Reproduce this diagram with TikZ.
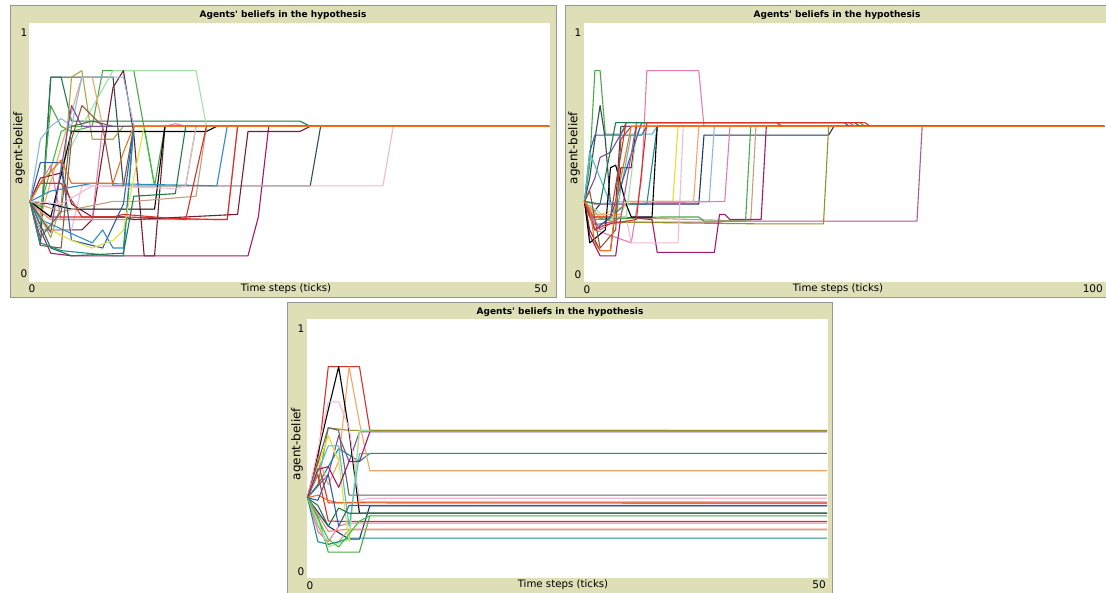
\documentclass[tikz,border=0pt]{standalone}
\usepackage{fontspec}
\setmainfont{DejaVu Sans}
\usetikzlibrary{positioning}

% --- CULORI ---
\definecolor{plotbeige}{RGB}{222,223,183}
\definecolor{frameline}{RGB}{150,150,150}
\definecolor{cslate}{RGB}{47,79,79}
\definecolor{cdgreen}{RGB}{31,122,80}
\definecolor{cgreen}{RGB}{76,170,70}
\definecolor{clgreen}{RGB}{160,226,165}
\definecolor{clime}{RGB}{60,196,60}
\definecolor{ckhaki}{RGB}{175,165,70}
\definecolor{colive}{RGB}{150,145,40}
\definecolor{cmaroon}{RGB}{120,30,50}
\definecolor{cmagenta}{RGB}{165,25,105}
\definecolor{cmauve}{RGB}{180,90,140}
\definecolor{clpink}{RGB}{242,186,208}
\definecolor{cpink}{RGB}{230,125,170}
\definecolor{csalmon}{RGB}{240,130,115}
\definecolor{cred}{RGB}{215,50,41}
\definecolor{corange}{RGB}{242,113,28}
\definecolor{clorange}{RGB}{246,165,105}
\definecolor{ctan}{RGB}{195,160,125}
\definecolor{cbrown}{RGB}{140,90,60}
\definecolor{cblue}{RGB}{52,93,169}
\definecolor{cnavy}{RGB}{30,55,110}
\definecolor{clblue}{RGB}{140,184,224}
\definecolor{csky}{RGB}{45,141,190}
\definecolor{cteal}{RGB}{28,140,140}
\definecolor{cyellow}{RGB}{225,225,50}
\definecolor{cviolet}{RGB}{124,80,164}
\definecolor{cgray}{RGB}{100,100,100}
\definecolor{ccyan}{RGB}{80,190,200}

\begin{document}
\begin{tikzpicture}[
    x=1pt, y=-1pt,
    % --- STILURI VIZUALE ---
    plotframe/.style={
            draw=frameline,
            fill=plotbeige,
            line width=0.8pt
        },
    plotarea/.style={
            fill=white,
            draw=none
        },
    plottitle/.style={
            font=\fontsize{9}{10}\selectfont\bfseries,
            inner sep=0pt
        },
    ticklbl/.style={
            font=\fontsize{10.5}{12}\selectfont,
            inner sep=0pt
        },
    axislbl/.style={
            font=\fontsize{10.2}{12}\selectfont,
            inner sep=0pt
        },
    ylbl/.style={
            font=\fontsize{12}{14}\selectfont,
            inner sep=0pt,
            rotate=90
        },
    agent/.style={
            draw=#1,
            line width=1.1pt,
            line join=round
        }
    ]
    \useasboundingbox (0,0) rectangle (1106,592);

    % --- PANOURI ---
    % PLOT 1 (stanga sus)
    \draw[plotframe] (10,5) rectangle (556,297);
    \fill[plotarea] (29.3,22.7) rectangle (549.5,281.7);
    \node[plottitle] (p1title) at (283,15) {Agents\textquotesingle\ beliefs in the hypothesis};
    \node[ticklbl] (p1ymax) at (24,33) {1};
    \node[ticklbl] (p1ymin) at (24,274) {0};
    \node[ticklbl] (p1xmin) at (32,289) {0};
    \node[ticklbl, anchor=east] (p1xmax) at (548,289) {50};
    \node[axislbl] (p1xlabel) at (286,289) {Time steps (ticks)};
    \node[ylbl] (p1ylabel) at (19,148) {agent-belief};

    % PLOT 2 (dreapta sus)
    \draw[plotframe] (565,5) rectangle (1112,297);
    \fill[plotarea] (584,22.7) rectangle (1106,281.7);
    \node[plottitle] (p2title) at (837,15) {Agents\textquotesingle\ beliefs in the hypothesis};
    \node[ticklbl] (p2ymax) at (578,33) {1};
    \node[ticklbl] (p2ymin) at (578,275) {0};
    \node[ticklbl] (p2xmin) at (587,290) {0};
    \node[ticklbl, anchor=east] (p2xmax) at (1103,289) {100};
    \node[axislbl] (p2xlabel) at (838,289) {Time steps (ticks)};
    \node[ylbl] (p2ylabel) at (574,148) {agent-belief};

    % PLOT 3 (jos)
    \draw[plotframe] (287,302) rectangle (832,600);
    \fill[plotarea] (307,319) rectangle (827.5,578);
    \node[plottitle] (p3title) at (560,312) {Agents\textquotesingle\ beliefs in the hypothesis};
    \node[ticklbl] (p3ymax) at (301,329) {1};
    \node[ticklbl] (p3ymin) at (301,572) {0};
    \node[ticklbl] (p3xmin) at (310,586) {0};
    \node[ticklbl, anchor=east] (p3xmax) at (826,585) {50};
    \node[axislbl] (p3xlabel) at (563,585) {Time steps (ticks)};
    \node[ylbl] (p3ylabel) at (297,444) {agent-belief};

    % --- CURBE PLOT 1 (50 ticks) ---
    \begin{scope}[shift={(30,281.7)}, x=10.38pt, y=259pt]
        \clip (-0.1,0) rectangle (50,1);
        \draw[agent=cslate] (0,.31) -- (1,.14) -- (2,.79) -- (8,.79) -- (9,.37) -- (27,.37) -- (28,.6) -- (50,.6);
        \draw[agent=cdgreen] (0,.31) -- (1,.2) -- (2,.79) -- (3,.79) -- (4,.62) -- (26,.62) -- (27,.6) -- (50,.6);
        \draw[agent=cgreen] (0,.31) -- (1,.25) -- (2,.68) -- (3,.6) -- (4,.58) -- (6,.6) -- (7,.815) -- (10,.815) -- (12,.37) -- (13,.6) -- (50,.6);
        \draw[agent=clgreen] (0,.31) -- (2,.2) -- (3,.45) -- (5,.6) -- (8,.815) -- (16,.815) -- (17,.6) -- (50,.6);
        \draw[agent=clime] (0,.31) -- (1,.29) -- (3,.58) -- (4,.6) -- (11,.6) -- (12,.37) -- (15,.37) -- (16,.6) -- (50,.6);
        \draw[agent=ckhaki] (0,.31) -- (1,.25) -- (2,.17) -- (3,.3) -- (4,.79) -- (5,.815) -- (6,.55) -- (8,.55) -- (9,.6) -- (50,.6);
        \draw[agent=cmaroon] (0,.31) -- (1,.2) -- (5,.2) -- (6,.24) -- (8,.75) -- (9,.815) -- (10,.57) -- (11,.1) -- (12,.1) -- (13,.6) -- (50,.6);
        \draw[agent=cmagenta] (0,.31) -- (1,.2) -- (2,.11) -- (4,.1) -- (12,.1) -- (21,.1) -- (22,.25) -- (23,.6) -- (50,.6);
        \draw[agent=clpink] (0,.31) -- (1,.2) -- (4,.2) -- (5,.37) -- (27,.37) -- (34,.37) -- (35,.6) -- (50,.6);
        \draw[agent=cpink] (0,.31) -- (2,.45) -- (3,.24) -- (6,.24) -- (7,.6) -- (13,.6) -- (14,.61) -- (15,.6) -- (50,.6);
        \draw[agent=csalmon] (0,.31) -- (1,.27) -- (2,.24) -- (14,.24) -- (19,.24) -- (20,.6) -- (50,.6);
        \draw[agent=cred] (0,.31) -- (2,.25) -- (9,.25) -- (18,.24) -- (19,.24) -- (20,.6) -- (50,.6);
        \draw[agent=cmaroon] (0,.31) -- (1,.4) -- (3,.42) -- (4,.3) -- (6,.25) -- (9,.25) -- (10,.24) -- (20,.26) -- (21,.58) -- (26,.58) -- (27,.6) -- (50,.6);
        \draw[agent=clorange] (0,.31) -- (1,.25) -- (5,.79) -- (6,.79) -- (7,.6) -- (50,.6);
        \draw[agent=black] (0,.31) -- (2,.25) -- (4,.58) -- (17,.58) -- (18,.6) -- (50,.6);
        \draw[agent=black] (0,.31) -- (2,.3) -- (4,.28) -- (12,.28) -- (13,.6) -- (50,.6);
        \draw[agent=ctan] (0,.31) -- (3,.27) -- (8,.31) -- (10,.31) -- (16,.33) -- (17,.6) -- (50,.6);
        \draw[agent=cbrown] (0,.31) -- (1,.14) -- (3,.13) -- (4,.55) -- (5,.68) -- (7,.6) -- (8,.37) -- (9,.37) -- (10,.6) -- (50,.6);
        \draw[agent=cblue] (0,.31) -- (1,.46) -- (3,.46) -- (4,.16) -- (7,.13) -- (9,.3) -- (10,.6) -- (50,.6);
        \draw[agent=clblue] (0,.31) -- (1,.55) -- (2,.6) -- (3,.63) -- (4,.6) -- (5,.79) -- (9,.79) -- (10,.6) -- (50,.6);
        \draw[agent=csky] (0,.31) -- (1,.24) -- (6,.15) -- (7,.2) -- (8,.13) -- (9,.13) -- (10,.6) -- (19,.6) -- (20,.6);
        \draw[agent=csky] (0,.31) -- (2,.35) -- (6,.38) -- (18,.37) -- (19,.6) -- (50,.6);
        \draw[agent=cteal] (0,.31) -- (1,.15) -- (3,.12) -- (8,.1) -- (9,.1) -- (10,.6) -- (50,.6);
        \draw[agent=cyellow] (0,.31) -- (2,.2) -- (4,.16) -- (6,.13) -- (8,.16) -- (9,.2) -- (11,.6) -- (50,.6);
        \draw[agent=cviolet] (0,.31) -- (2,.19) -- (4,.68) -- (5,.6) -- (9,.6) -- (50,.6);
        \draw[agent=cgray] (0,.31) -- (1,.17) -- (3,.27) -- (4,.6) -- (6,.62) -- (8,.6) -- (50,.6);
        \draw[agent=cdgreen] (0,.31) -- (2,.13) -- (4,.1) -- (9,.11) -- (10,.33) -- (14,.34) -- (15,.6) -- (50,.6);
        \draw[agent=cred] (0,.31) -- (1,.38) -- (3,.38) -- (5,.25) -- (8,.25) -- (9,.26) -- (12,.25) -- (15,.24) -- (17,.6) -- (50,.6);
        \draw[agent=clpink] (0,.31) -- (3,.3) -- (6,.37) -- (14,.36) -- (15,.37) -- (16,.6) -- (50,.6);
        \draw[agent=corange] (0,.31) -- (1,.38) -- (3,.47) -- (4,.38) -- (8,.38) -- (9,.5) -- (10,.6) -- (50,.6);
    \end{scope}

    % --- CURBE PLOT 2 (100 ticks) ---
    \begin{scope}[shift={(584.5,281.7)}, x=5.195pt, y=259pt]
        \clip (-0.2,0) rectangle (100.5,1);
        \draw[agent=cgreen] (0,.31) -- (1,.45) -- (2,.815) -- (3,.815) -- (4,.57) -- (7,.57) -- (8,.614) -- (53,.614) -- (54,.6) -- (100,.6);
        \draw[agent=cslate] (0,.31) -- (1,.4) -- (2,.55) -- (3,.68) -- (4,.55) -- (5,.3) -- (6,.3) -- (7,.6) -- (100,.6);
        \draw[agent=cpink] (0,.31) -- (2,.2) -- (9,.15) -- (11,.4) -- (12,.815) -- (22,.815) -- (23,.6) -- (100,.6);
        \draw[agent=cnavy] (0,.31) -- (1,.25) -- (3,.3) -- (22,.3) -- (23,.566) -- (47,.566) -- (48,.6) -- (100,.6);
        \draw[agent=cblue] (0,.31) -- (1,.5) -- (2,.566) -- (11,.566) -- (12,.6) -- (100,.6);
        \draw[agent=clblue] (0,.31) -- (2,.3) -- (8,.31) -- (24,.31) -- (25,.6) -- (100,.6);
        \draw[agent=cmauve] (0,.31) -- (2,.22) -- (5,.23) -- (26,.23) -- (27,.234) -- (64,.234) -- (65,.6) -- (100,.6);
        \draw[agent=colive] (0,.31) -- (2,.25) -- (6,.23) -- (35,.223) -- (46,.223) -- (47,.6) -- (100,.6);
        \draw[agent=ctan] (0,.31) -- (3,.25) -- (32,.234) -- (33,.6) -- (100,.6);
        \draw[agent=cmagenta] (0,.31) -- (1,.18) -- (3,.1) -- (6,.1) -- (7,.25) -- (13,.24) -- (14,.113) -- (25,.113) -- (26,.26) -- (27,.26) -- (28,.24) -- (34,.24) -- (35,.6) -- (100,.6);
        \draw[agent=clpink] (0,.31) -- (2,.25) -- (8,.25) -- (9,.15) -- (18,.15) -- (19,.6) -- (100,.6);
        \draw[agent=cyellow] (0,.31) -- (2,.25) -- (10,.31) -- (17,.31) -- (18,.6) -- (100,.6);
        \draw[agent=cgreen] (0,.31) -- (2,.24) -- (15,.25) -- (22,.25) -- (23,.234) -- (31,.234) -- (32,.6) -- (100,.6);
        \draw[agent=cpink] (0,.31) -- (2,.3) -- (27,.31) -- (28,.6) -- (100,.6);
        \draw[agent=cmaroon] (0,.31) -- (1,.2) -- (3,.12) -- (5,.12) -- (7,.44) -- (9,.44) -- (10,.6) -- (100,.6);
        \draw[agent=cviolet] (0,.31) -- (2,.4) -- (3,.48) -- (5,.5) -- (7,.57) -- (8,.6) -- (100,.6);
        \draw[agent=ccyan] (0,.31) -- (1,.5) -- (3,.4) -- (6,.25) -- (9,.57) -- (13,.57) -- (14,.6) -- (100,.6);
        \draw[agent=cteal] (0,.31) -- (2,.2) -- (8,.3) -- (12,.3) -- (14,.6) -- (100,.6);
        \draw[agent=clgreen] (0,.31) -- (4,.25) -- (8,.25) -- (10,.57) -- (11,.6) -- (100,.6);
        \draw[agent=black] (0,.31) -- (1,.15) -- (4,.2) -- (5,.44) -- (6,.45) -- (8,.3) -- (9,.25) -- (13,.25) -- (14,.6) -- (100,.6);
        \draw[agent=clorange] (0,.31) -- (2,.26) -- (7,.26) -- (8,.31) -- (21,.31) -- (22,.6) -- (100,.6);
        \draw[agent=cbrown] (0,.31) -- (1,.35) -- (3,.13) -- (6,.2) -- (7,.55) -- (9,.6) -- (100,.6);
        \draw[agent=cred] (0,.31) -- (1,.25) -- (5,.25) -- (8,.614) -- (37,.614) -- (38,.6) -- (100,.6);
        \draw[agent=cblue] (0,.31) -- (2,.2) -- (5,.25) -- (11,.614) -- (50,.614) -- (51,.6) -- (100,.6);
        \draw[agent=cmauve] (0,.31) -- (3,.2) -- (7,.25) -- (10,.614) -- (51,.614) -- (52,.6) -- (100,.6);
        \draw[agent=cdgreen] (0,.31) -- (3,.3) -- (6,.614) -- (52,.614) -- (53,.6) -- (100,.6);
        \draw[agent=cred] (0,.31) -- (2,.2) -- (4,.22) -- (10,.24) -- (12,.614) -- (54,.614) -- (55,.6) -- (100,.6);
        \draw[agent=corange] (0,.31) -- (1,.28) -- (2,.15) -- (3,.12) -- (5,.12) -- (6,.3) -- (9,.6) -- (100,.6);
    \end{scope}

    % --- CURBE PLOT 3 (50 ticks) ---
    \begin{scope}[shift={(307.5,578)}, x=10.39pt, y=259pt]
        \clip (-0.1,0) rectangle (50,1);
        \draw[agent=cred] (0,.31) -- (1,.45) -- (2,.816) -- (5,.816) -- (6,.57) -- (50,.57);
        \draw[agent=colive] (0,.31) -- (1,.36) -- (2,.58) -- (4,.57) -- (50,.569);
        \draw[agent=cviolet] (0,.31) -- (2,.4) -- (3,.55) -- (4,.45) -- (5,.564) -- (50,.564);
        \draw[agent=cteal] (0,.31) -- (1,.36) -- (3,.5) -- (5,.45) -- (6,.481) -- (50,.481);
        \draw[agent=clorange] (0,.31) -- (1,.47) -- (2,.36) -- (3,.45) -- (4,.816) -- (5,.6) -- (6,.414) -- (50,.414);
        \draw[agent=black] (0,.31) -- (2,.65) -- (3,.816) -- (4,.566) -- (5,.25) -- (6,.25) -- (50,.25);
        \draw[agent=clpink] (0,.31) -- (2,.68) -- (3,.68) -- (4,.58) -- (5,.3) -- (6,.308) -- (50,.308);
        \draw[agent=cgreen] (0,.31) -- (1,.24) -- (2,.1) -- (5,.1) -- (6,.24) -- (50,.24);
        \draw[agent=cred] (0,.31) -- (1,.45) -- (2,.29) -- (6,.293) -- (50,.293);
        \draw[agent=corange] (0,.31) -- (1,.32) -- (2,.3) -- (3,.29) -- (50,.288);
        \draw[agent=cnavy] (0,.31) -- (2,.2) -- (4,.15) -- (5,.15) -- (6,.279) -- (50,.279);
        \draw[agent=cgray] (0,.31) -- (2,.58) -- (3,.57) -- (4,.32) -- (50,.32);
        \draw[agent=cred] (0,.31) -- (1,.4) -- (2,.22) -- (4,.218) -- (50,.218);
        \draw[agent=cpink] (0,.31) -- (1,.18) -- (2,.14) -- (3,.2) -- (4,.212) -- (50,.212);
        \draw[agent=csalmon] (0,.31) -- (2,.18) -- (4,.189) -- (50,.189);
        \draw[agent=ctan] (0,.31) -- (1,.2) -- (2,.13) -- (3,.14) -- (4,.186) -- (50,.186);
        \draw[agent=cteal] (0,.31) -- (1,.14) -- (2,.13) -- (3,.14) -- (4,.154) -- (50,.154);
        \draw[agent=cyellow] (0,.31) -- (2,.55) -- (3,.45) -- (4,.14) -- (5,.57) -- (6,.57);
        \draw[agent=clgreen] (0,.31) -- (2,.12) -- (4,.15) -- (5,.57) -- (6,.57);
        \draw[agent=ccyan] (0,.31) -- (2,.51) -- (3,.51) -- (4,.2) -- (5,.48) -- (6,.48);
        \draw[agent=cdgreen] (0,.31) -- (1,.28) -- (2,.2) -- (3,.27) -- (4,.25) -- (50,.25);
        \draw[agent=cmagenta] (0,.31) -- (1,.42) -- (2,.43) -- (3,.35) -- (4,.45) -- (5,.45) -- (6,.564);
        \draw[agent=cblue] (0,.31) -- (1,.3) -- (2,.4) -- (3,.2) -- (4,.28) -- (50,.28);
        \draw[agent=clime] (0,.31) -- (2,.15) -- (3,.12) -- (4,.17) -- (5,.22) -- (6,.24);
    \end{scope}

\end{tikzpicture}
\end{document}
